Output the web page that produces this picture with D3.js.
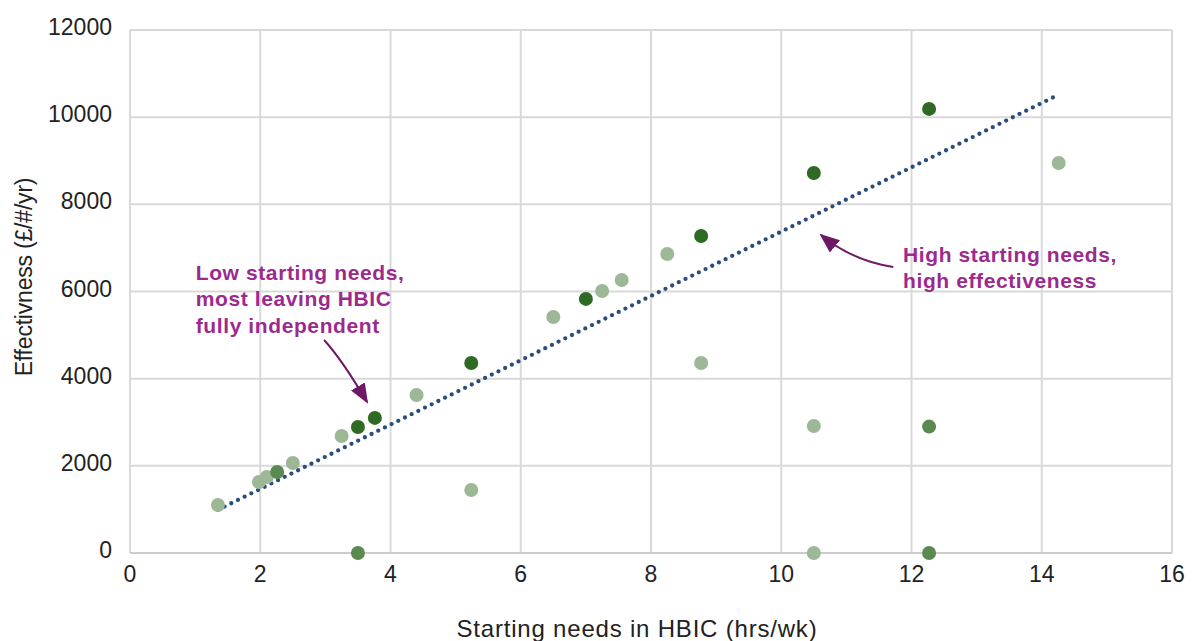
<!DOCTYPE html>
<html>
<head>
<meta charset="utf-8">
<script src="https://cdn.jsdelivr.net/npm/d3@7"></script>
<style>
  body { margin: 0; background: #fff; }
  svg { display: block; font-family: "Liberation Sans", Arial, sans-serif; }
</style>
</head>
<body>
<div id="chart"></div>
<script>
const WIDTH = 1192, HEIGHT = 641;
const MARGIN = {top: 30, right: 20, bottom: 88, left: 130};

// light green points
const lightX = [1.35, 1.98, 2.1, 2.5, 3.25, 4.4, 5.24, 6.5, 7.25, 7.55, 8.25, 8.77, 10.5, 10.5, 14.26];
const lightY = [1100, 1630, 1745, 2065, 2685, 3625, 1445, 5415, 6010, 6265, 6860, 4360, 2915, 0, 8950];
// mid green points
const midX = [2.26, 3.5, 12.27, 12.27];
const midY = [1860, 0, 2900, 0];
// dark green points
const darkX = [3.5, 3.76, 5.24, 7.0, 8.77, 10.5, 12.27];
const darkY = [2890, 3100, 4360, 5830, 7275, 8720, 10190];
// trend line end points
const trendX = [1.35, 14.25];
const trendY = [990, 10510];

const xTicks = [0, 2, 4, 6, 8, 10, 12, 14, 16];
const yTicks = [0, 2000, 4000, 6000, 8000, 10000, 12000];

const COLOR_LIGHT = "#9cb896";
const COLOR_MID = "#5a8a51";
const COLOR_DARK = "#2e6a24";
const COLOR_TREND = "#2b4d7e";
const COLOR_NOTE = "#9c2a8e";
const COLOR_ARROW = "#6f1866";

const svg = d3.select("#chart").append("svg")
    .attr("width", WIDTH)
    .attr("height", HEIGHT);

const x = d3.scaleLinear().domain([0, 16]).range([MARGIN.left, WIDTH - MARGIN.right]);
const y = d3.scaleLinear().domain([0, 12000]).range([HEIGHT - MARGIN.bottom, MARGIN.top]);

// Grid
svg.append("g").selectAll("line")
    .data(xTicks)
    .join("line")
    .attr("x1", d => x(d)).attr("x2", d => x(d))
    .attr("y1", y(0)).attr("y2", y(12000))
    .attr("stroke", "#d9d9d9")
    .attr("stroke-width", 2);

svg.append("g").selectAll("line")
    .data(yTicks)
    .join("line")
    .attr("x1", x(0)).attr("x2", x(16))
    .attr("y1", d => y(d)).attr("y2", d => y(d))
    .attr("stroke", d => d === 0 ? "#cccccc" : "#d9d9d9")
    .attr("stroke-width", 2);

// Axes labels
svg.append("g").selectAll("text")
    .data(xTicks)
    .join("text")
    .attr("x", d => x(d))
    .attr("y", y(0) + 29)
    .attr("text-anchor", "middle")
    .style("font-size", "23px")
    .style("fill", "#222")
    .text(d => d);

svg.append("g").selectAll("text")
    .data(yTicks)
    .join("text")
    .attr("x", x(0) - 18)
    .attr("y", d => y(d) + 5)
    .attr("text-anchor", "end")
    .style("font-size", "23px")
    .style("fill", "#222")
    .text(d => d);

svg.append("text")
    .attr("x", 637)
    .attr("y", 637)
    .attr("text-anchor", "middle")
    .style("font-size", "24px")
    .style("letter-spacing", "0.8px")
    .style("fill", "#222")
    .text("Starting needs in HBIC (hrs/wk)");

svg.append("text")
    .attr("transform", "translate(32,277) rotate(-90)")
    .attr("text-anchor", "middle")
    .style("font-size", "23px")
    .style("letter-spacing", "-0.2px")
    .style("fill", "#222")
    .text("Effectivness (£/#/yr)");

// Trend line (dotted)
svg.append("line")
    .attr("x1", x(trendX[0])).attr("y1", y(trendY[0]))
    .attr("x2", x(trendX[1])).attr("y2", y(trendY[1]))
    .attr("stroke", COLOR_TREND)
    .attr("stroke-width", 4.3)
    .attr("stroke-linecap", "round")
    .attr("stroke-dasharray", "0 7.45");

// Points
function drawPoints(xs, ys, color, cls) {
    svg.append("g").selectAll("circle." + cls)
        .data(xs.map((d, i) => ({x: d, y: ys[i]})))
        .join("circle")
        .attr("class", cls)
        .attr("cx", d => x(d.x))
        .attr("cy", d => y(d.y))
        .attr("r", 7)
        .attr("fill", color);
}
drawPoints(lightX, lightY, COLOR_LIGHT, "light");
drawPoints(midX, midY, COLOR_MID, "mid");
drawPoints(darkX, darkY, COLOR_DARK, "dark");

// Annotations
svg.append("defs").append("marker")
    .attr("id", "head")
    .attr("markerUnits", "userSpaceOnUse")
    .attr("viewBox", "0 0 20 16")
    .attr("refX", 18).attr("refY", 8)
    .attr("markerWidth", 20).attr("markerHeight", 16)
    .attr("orient", "auto")
    .append("path")
    .attr("d", "M0,0 L20,8 L0,16 Z")
    .attr("fill", COLOR_ARROW);

const notes = [
    {lines: ["Low starting needs,", "most leaving HBIC", "fully independent"], tx: 1.01, ty: 6264,
     arrow: [[2.98, 4888], [3.25, 4450], [3.64, 3465]]},
    {lines: ["High starting needs,", "high effectiveness"], tx: 11.87, ty: 6677,
     arrow: [[11.72, 6563], [11.1, 6700], [10.61, 7297]]}
];

notes.forEach(n => {
    const t = svg.append("text")
        .attr("x", x(n.tx))
        .attr("y", y(n.ty))
        .style("font-size", "21px")
        .style("letter-spacing", "0.6px")
        .style("font-weight", "bold")
        .style("fill", COLOR_NOTE);
    n.lines.forEach((l, i) => {
        t.append("tspan").attr("x", x(n.tx)).attr("dy", i === 0 ? 0 : 26.5).text(l);
    });
    const [a, c, b] = n.arrow;
    svg.append("path")
        .attr("d", `M${x(a[0])},${y(a[1])} Q${x(c[0])},${y(c[1])} ${x(b[0])},${y(b[1])}`)
        .attr("fill", "none")
        .attr("stroke", COLOR_ARROW)
        .attr("stroke-width", 2)
        .attr("marker-end", "url(#head)");
});
</script>
</body>
</html>
